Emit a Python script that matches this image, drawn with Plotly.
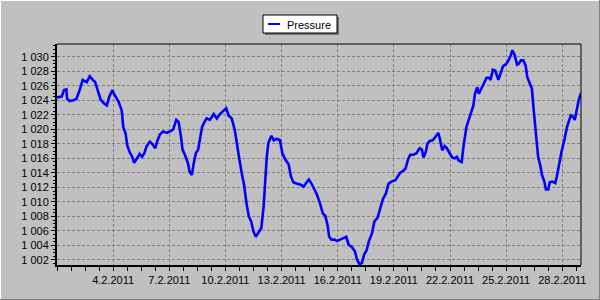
import pandas as pd
import plotly.graph_objects as go

# ---- data (hours since 1.2.2011 00:00, pressure hPa) ----
hours = [0, 6, 9, 12, 13, 16, 21, 25, 29, 33, 38, 42, 46, 49, 53, 56, 60, 64, 67, 71,
         73, 76, 79, 83, 85, 88, 90, 93, 96, 99, 102, 106, 109, 112, 115, 119, 122, 126, 129, 132,
         136, 141, 145, 149, 153, 156, 159, 161, 164, 168, 170,
         173, 175, 178, 181, 183, 186, 189, 192, 196, 201, 205, 209, 213, 217, 220, 224, 228, 231, 234, 237,
         240, 243, 246, 249, 252, 255, 258, 262, 265, 267, 269, 271, 275, 278, 282, 286, 289, 293, 297, 300,
         303, 308, 312, 316, 319, 323, 326, 329, 333, 337,
         341, 344, 347, 349, 352, 356, 359, 363, 368, 371, 374, 378, 382, 385, 388, 391, 394, 397, 400, 404,
         407, 411, 414, 418, 422, 425, 429, 434, 437, 440, 444, 447, 450, 453, 457, 461, 465, 468, 470, 473,
         475, 478, 482, 485, 489, 491, 494, 497, 500, 503,
         507, 510, 513, 515, 519, 521, 523, 525, 528, 531, 534, 536, 539, 541, 544, 548, 551, 554, 556, 559,
         562, 566, 569, 572, 576, 579, 582, 584, 587, 590, 592, 595, 598, 601, 603, 606, 609, 611, 613, 615,
         617, 620, 622, 625, 627, 630, 632, 635, 639, 641, 644, 647, 651, 654, 657, 659, 662, 664, 667, 669, 672]

pressure = [1024.4, 1024.5, 1025.4, 1025.5, 1024.2, 1023.9, 1024.0, 1024.2, 1025.4, 1026.8,
            1026.5, 1027.3, 1026.8, 1026.5, 1025.1, 1024.1, 1023.6, 1023.3, 1024.5, 1025.4,
            1024.9, 1024.4, 1023.8, 1022.6, 1020.3, 1019.4, 1017.8, 1016.9, 1016.3, 1015.4,
            1016.0, 1016.6, 1016.2, 1016.7, 1017.7, 1018.3, 1018.0, 1017.4, 1018.5, 1019.3,
            1019.7, 1019.5, 1019.7, 1020.0, 1021.3, 1021.0, 1019.0, 1017.2, 1016.5, 1015.3, 1014.2,
            1013.7, 1015.1, 1016.7, 1017.2, 1018.5, 1020.3, 1021.0, 1021.5, 1021.3, 1022.1,
            1021.5, 1022.1, 1022.5, 1022.9, 1021.9, 1021.5, 1019.9, 1017.6, 1015.8, 1013.9,
            1012.3, 1009.8, 1008.0, 1007.3, 1005.9, 1005.2, 1005.8, 1006.4, 1009.4, 1013.0,
            1016.2, 1018.1, 1019.1, 1018.5, 1018.7, 1018.5, 1016.7, 1015.8, 1015.2, 1013.5,
            1012.7, 1012.5, 1012.4, 1012.1, 1012.6, 1013.1, 1012.6, 1012.0, 1011.1, 1009.9,
            1008.4, 1008.1, 1006.8, 1005.2, 1004.8, 1004.8, 1004.6, 1004.8, 1005.0, 1005.2,
            1004.1, 1003.8, 1003.2, 1002.0, 1001.4, 1001.6, 1002.8, 1003.3, 1004.6, 1005.7,
            1007.3, 1007.8, 1008.9, 1010.4, 1011.2, 1012.5, 1012.8, 1013.0, 1013.5, 1014.0,
            1014.3, 1014.6, 1015.8, 1016.5, 1016.5, 1016.7, 1017.4, 1017.2, 1016.1, 1016.9,
            1018.0, 1018.4, 1018.5, 1019.0, 1019.5, 1018.7, 1017.1, 1017.7, 1017.4, 1016.8,
            1016.1, 1016.0, 1016.2, 1015.7, 1015.5, 1017.4, 1019.2, 1020.3, 1021.3, 1022.2,
            1023.3, 1024.9, 1025.8, 1024.9, 1025.5, 1026.5, 1027.1, 1027.1, 1026.8, 1028.2,
            1028.1, 1026.8, 1027.8, 1028.7, 1029.0, 1029.5, 1030.2, 1030.9, 1030.2, 1028.9,
            1029.0, 1029.5, 1029.5, 1028.8, 1027.2, 1026.3, 1025.6, 1023.1, 1020.6, 1018.1,
            1016.2, 1014.9, 1013.7, 1012.8, 1011.7, 1011.7, 1012.7, 1012.8, 1012.6, 1013.5,
            1015.3, 1016.9, 1018.7, 1020.3, 1021.3, 1021.9, 1021.7, 1021.3, 1022.9, 1024.0, 1025.0]

x_ticks = ["2011-02-04", "2011-02-07", "2011-02-10", "2011-02-13", "2011-02-16",
           "2011-02-19", "2011-02-22", "2011-02-25", "2011-02-28"]
y_ticks = [1002, 1004, 1006, 1008, 1010, 1012, 1014, 1016, 1018, 1020,
           1022, 1024, 1026, 1028, 1030]
y_tick_text = ["1 002", "1 004", "1 006", "1 008", "1 010", "1 012", "1 014", "1 016",
               "1 018", "1 020", "1 022", "1 024", "1 026", "1 028", "1 030"]
series_name = "Pressure"

start = pd.Timestamp("2011-02-01")
times = [start + pd.Timedelta(hours=h) for h in hours]

W, H = 600, 300
ML, MR, MT, MB = 57, 19, 44, 35
PW, PH = W - ML - MR, H - MT - MB
BG = "#C0C0C0"
FONT = "Liberation Sans, Arial, sans-serif"


def px(x):
    return (x - ML) / PW


def py(y):
    return (H - MB - y) / PH


fig = go.Figure()
fig.add_trace(go.Scatter(x=times, y=pressure, mode="lines", name=series_name,
                         line=dict(color="#0000FF", width=2.6), showlegend=False))

fig.update_layout(
    width=W, height=H,
    margin=dict(l=ML, r=MR, t=MT, b=MB, pad=0),
    paper_bgcolor=BG, plot_bgcolor=BG,
    font=dict(family=FONT, size=11, color="#000000"),
    xaxis=dict(
        type="date",
        range=["2011-02-01 00:00", "2011-03-01 00:00"],
        tickvals=x_ticks, tickformat="%-d.%-m.%Y",
        ticks="outside", ticklen=4, tickwidth=1, tickcolor="#000000",
        showline=True, linewidth=2, linecolor="#000000",
        showgrid=True, gridcolor="#808080", gridwidth=1, griddash="3px,2px",
        zeroline=False,
        minor=dict(tick0="2011-02-01", dtick=18 * 3600 * 1000, ticks="outside",
                   ticklen=4, tickcolor="#000000", showgrid=False),
    ),
    yaxis=dict(
        range=[1001.31, 1031.75],
        tickvals=y_ticks, ticktext=y_tick_text,
        ticks="outside", ticklen=4, tickwidth=1, tickcolor="#000000",
        showline=True, linewidth=2, linecolor="#000000",
        showgrid=True, gridcolor="#808080", gridwidth=1, griddash="3px,2px",
        zeroline=False,
        minor=dict(dtick=0.5, ticks="outside", ticklen=2, tickcolor="#000000",
                   showgrid=False),
    ),
)

shapes = [
    # top and right plot border (1px)
    dict(type="line", xref="paper", yref="paper", x0=0, x1=1, y0=1, y1=1,
         line=dict(color="#000000", width=1)),
    dict(type="line", xref="paper", yref="paper", x0=1, x1=1, y0=0, y1=1,
         line=dict(color="#000000", width=1)),
    # legend shadow and box
    dict(type="rect", xref="paper", yref="paper", x0=px(265), x1=px(339), y0=py(35), y1=py(17),
         fillcolor="#707070", line=dict(width=0), layer="above"),
    dict(type="rect", xref="paper", yref="paper", x0=px(263), x1=px(337), y0=py(33), y1=py(15),
         fillcolor="#FFFFFF", line=dict(color="#000000", width=1), layer="above"),
    dict(type="line", xref="paper", yref="paper", x0=px(268), x1=px(280), y0=py(24), y1=py(24),
         line=dict(color="#0000FF", width=2), layer="above"),
    # outer bevel
    dict(type="line", xref="paper", yref="paper", x0=px(0), x1=px(600), y0=py(0.5), y1=py(0.5),
         line=dict(color="#FFFFFF", width=1)),
    dict(type="line", xref="paper", yref="paper", x0=px(0.5), x1=px(0.5), y0=py(0), y1=py(300),
         line=dict(color="#FFFFFF", width=1)),
    dict(type="line", xref="paper", yref="paper", x0=px(0), x1=px(600), y0=py(299.5), y1=py(299.5),
         line=dict(color="#808080", width=1)),
    dict(type="line", xref="paper", yref="paper", x0=px(599.5), x1=px(599.5), y0=py(0), y1=py(300),
         line=dict(color="#808080", width=1)),
]
fig.update_layout(shapes=shapes)

fig.add_annotation(xref="paper", yref="paper", x=px(285), y=py(24.5), text=series_name,
                   showarrow=False, xanchor="left", yanchor="middle",
                   font=dict(family=FONT, size=11, color="#000000"))

fig.write_html("out.html")
